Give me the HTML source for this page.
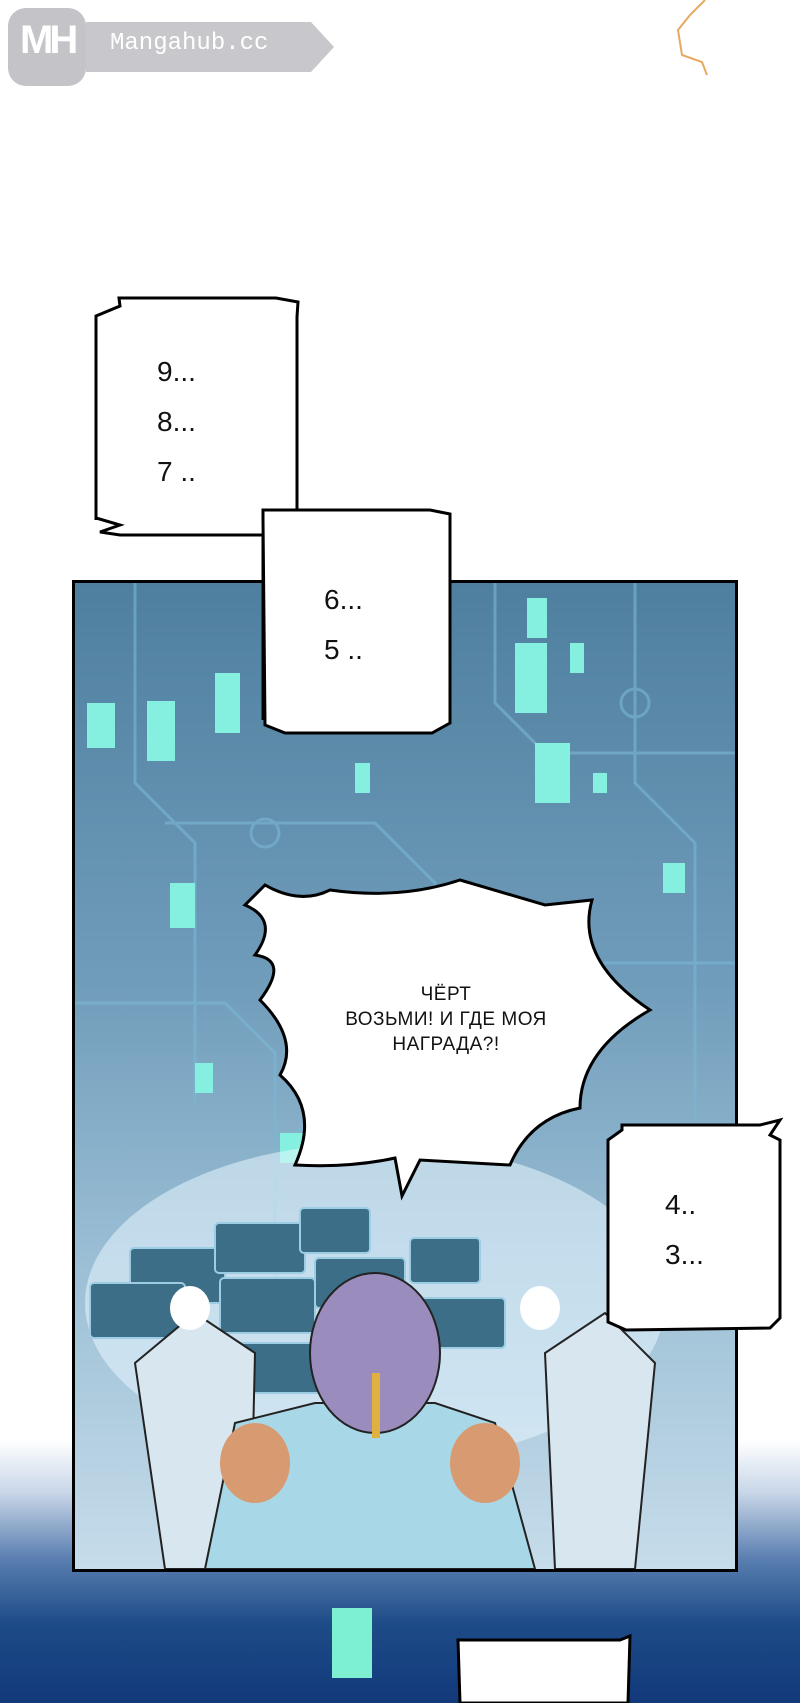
<!DOCTYPE html>
<html><head><meta charset="utf-8"><style>
body{margin:0;width:800px;height:1703px;position:relative;overflow:hidden;background:#fff;font-family:"Liberation Sans",sans-serif}
.a{position:absolute}
.num{position:absolute;font-family:"Liberation Sans",sans-serif;font-size:28px;color:#111;line-height:50px}
</style></head><body>
<div class="a" style="left:0;top:1440px;width:800px;height:263px;background:linear-gradient(#fff 0%,#c8d6e8 20%,#5a7fb0 45%,#1d4b88 70%,#12397a 100%)"></div>
<div class="a" style="left:332px;top:1608px;width:40px;height:70px;background:#7cf0d0"></div>
<div class="a" style="left:8px;top:8px;width:78px;height:78px;border-radius:18px;background:#c4c4c8"></div>
<div class="a" style="left:20px;top:18px;color:#fff;font-size:40px;font-weight:bold;letter-spacing:-4px">MH</div>
<svg class="a" style="left:86px;top:22px" width="250" height="50"><polygon points="0,0 225,0 248,25 225,50 0,50" fill="#c8c8cc"/></svg>
<div class="a" style="left:110px;top:30px;font-family:'Liberation Mono',monospace;font-size:24px;color:#fff">Mangahub.cc</div>
<svg class="a" style="left:670px;top:0" width="50" height="80"><polyline points="35,0 20,15 8,30 12,55 32,62 37,75" fill="none" stroke="#e8a860" stroke-width="2"/></svg>
<div class="a" style="left:72px;top:580px;width:660px;height:986px;border:3px solid #000;background:linear-gradient(#4f7f9f 0%,#6f9cba 40%,#9dc0d6 70%,#c6dcea 100%);overflow:hidden">
 <svg width="660" height="986" style="position:absolute;left:0;top:0">
  <g fill="none" stroke="#7ab8d4" stroke-width="3" opacity=".6">
   <path d="M60,0 V200 L120,260 V520"/><path d="M90,240 H300 L360,300 V500"/><path d="M420,0 V120 L470,170 H660"/>
   <path d="M560,0 V200 L620,260 V600"/><path d="M0,420 H150 L200,470 V700"/><path d="M400,300 L480,380 H660"/>
   <circle cx="190" cy="250" r="14"/><circle cx="560" cy="120" r="14"/><circle cx="230" cy="560" r="14"/><circle cx="600" cy="560" r="14"/>
  </g>
  <g fill="#86f0e0">
   <rect x="12" y="120" width="28" height="45"/><rect x="72" y="118" width="28" height="60"/><rect x="140" y="90" width="25" height="60"/>
   <rect x="452" y="15" width="20" height="40"/><rect x="440" y="60" width="32" height="70"/><rect x="495" y="60" width="14" height="30"/>
   <rect x="460" y="160" width="35" height="60"/><rect x="588" y="280" width="22" height="30"/><rect x="95" y="300" width="25" height="45"/>
   <rect x="120" y="480" width="18" height="30"/><rect x="205" y="550" width="30" height="30"/><rect x="518" y="190" width="14" height="20"/>
   <rect x="330" y="500" width="20" height="20"/><rect x="280" y="180" width="15" height="30"/>
  </g>
  <ellipse cx="300" cy="720" rx="290" ry="160" fill="#e8f6ff" opacity=".55"/>
  <g fill="#3c6e88" stroke="#9ccde4" stroke-width="2">
   <rect x="55" y="665" width="95" height="55" rx="4"/><rect x="140" y="640" width="90" height="50" rx="4"/><rect x="225" y="625" width="70" height="45" rx="4"/>
   <rect x="15" y="700" width="95" height="55" rx="4"/><rect x="145" y="695" width="95" height="55" rx="4"/><rect x="240" y="675" width="90" height="50" rx="4"/>
   <rect x="335" y="655" width="70" height="45" rx="4"/><rect x="340" y="715" width="90" height="50" rx="4"/><rect x="160" y="760" width="90" height="50" rx="4"/>
  </g>
  <path d="M60,780 L120,730 L180,770 L175,986 L90,986 Z M580,780 L530,730 L470,770 L480,986 L560,986 Z" fill="#d8e6f0" stroke="#222" stroke-width="2"/>
  <path d="M130,986 L160,840 L240,820 L360,820 L420,840 L460,986 Z" fill="#a8d8e8" stroke="#222" stroke-width="2"/>
  <ellipse cx="300" cy="770" rx="65" ry="80" fill="#9a8cbc" stroke="#222" stroke-width="2"/>
  <rect x="297" y="790" width="8" height="65" fill="#e0b040"/>
  <ellipse cx="180" cy="880" rx="35" ry="40" fill="#d89a70"/><ellipse cx="410" cy="880" rx="35" ry="40" fill="#d89a70"/>
  <ellipse cx="115" cy="725" rx="20" ry="22" fill="#fff"/><ellipse cx="465" cy="725" rx="20" ry="22" fill="#fff"/>
 </svg>
</div>
<svg class="a" style="left:0;top:0" width="800" height="1703">
 <g fill="#fff" stroke="#000" stroke-width="3" stroke-linejoin="miter">
  <polygon points="119,298 276,298 298,302 297,317 297,535 120,535 100,532 120,525 96,518 96,316 120,306"/>
  <polygon points="263,510 430,510 450,514 450,528 450,723 432,733 285,733 265,725 263,520"/>
  <rect x="265" y="512" width="40" height="30" stroke="none"/>
  <polygon points="622,1125 760,1125 780,1120 770,1135 780,1140 780,1318 770,1328 626,1330 608,1322 608,1140 622,1130" />
  <polygon points="465,1640 620,1640 630,1636 628,1703 460,1703 458,1640"/>
  <path d="M265,885 Q300,905 330,890 Q400,900 460,880 L545,905 L592,900 Q575,960 650,1010 Q580,1050 580,1108 Q530,1118 510,1165 L420,1160 L402,1196 L395,1158 Q350,1168 295,1165 Q320,1110 280,1075 Q300,1040 260,1000 Q290,960 255,955 Q280,920 245,905 Z"/>
 </g>
 <path d="M96,520 V316 M263,535 V720 M297,317 V509" stroke="#000" stroke-width="3"/>
</svg>
<div class="num" style="left:157px;top:347px">9...<br>8...<br>7 ..</div>
<div class="num" style="left:324px;top:575px">6...<br>5 ..</div>
<div class="num" style="left:665px;top:1180px">4..<br>3...</div>
<div class="a" style="left:296px;top:982px;width:300px;text-align:center;font-size:19px;line-height:25px;color:#111;letter-spacing:0.5px">ЧЁРТ<br>ВОЗЬМИ! И ГДЕ МОЯ<br>НАГРАДА?!</div>
</body></html>
